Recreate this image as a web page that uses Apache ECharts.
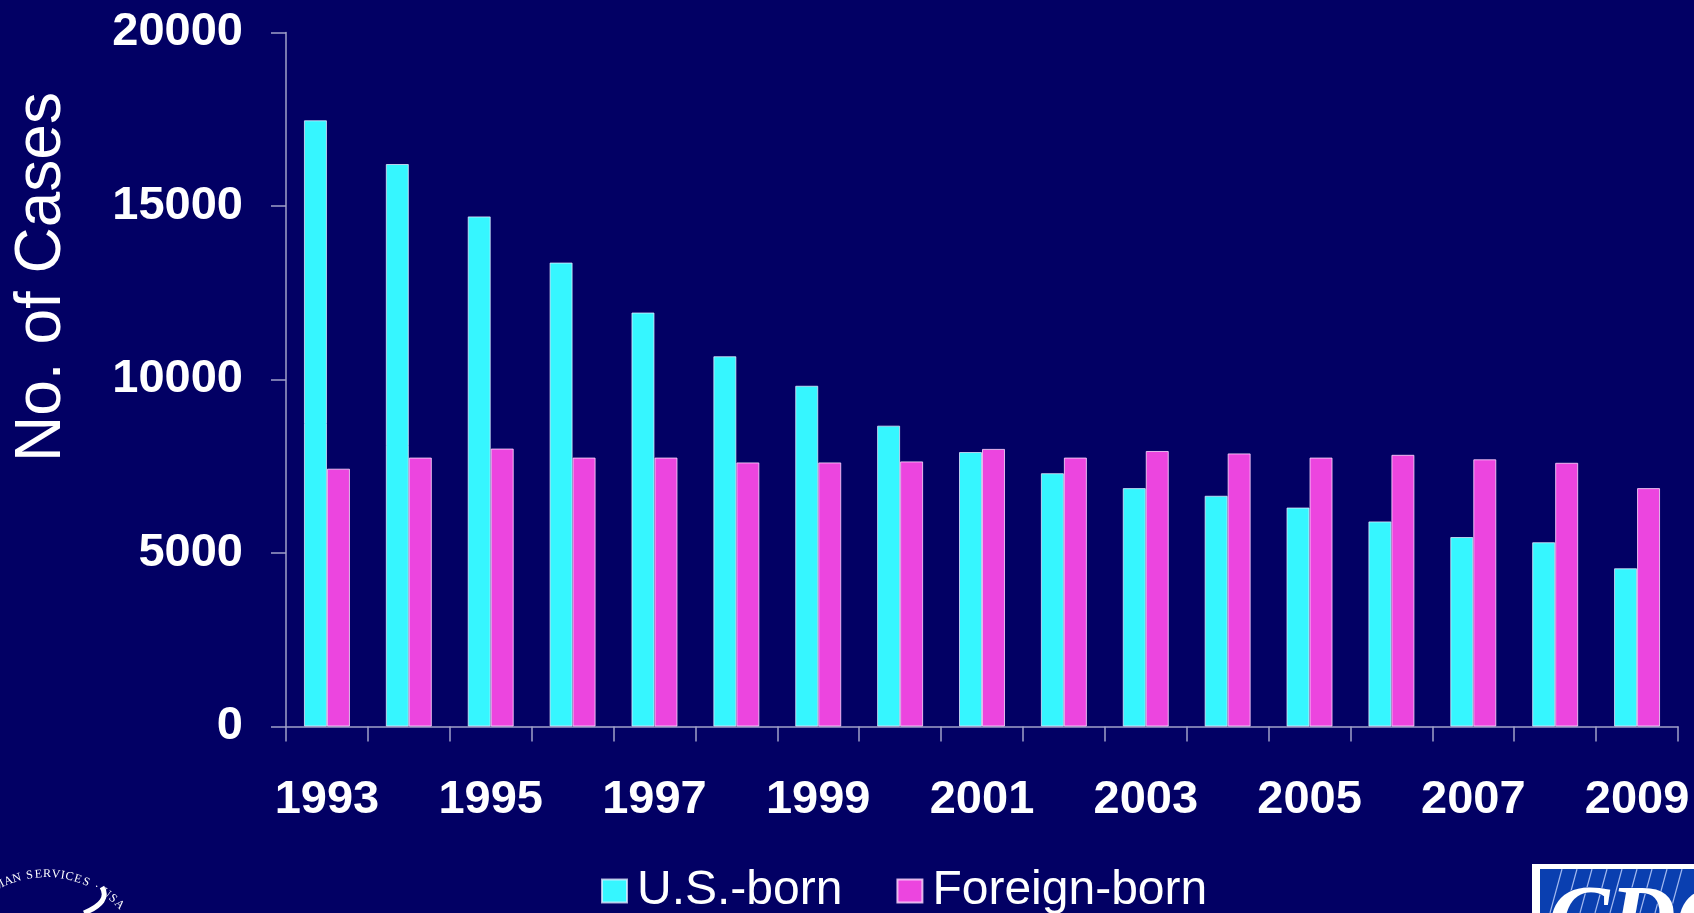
<!DOCTYPE html>
<html>
<head>
<meta charset="utf-8">
<script src="https://cdn.jsdelivr.net/npm/echarts@6/dist/echarts.min.js"></script>
<style>
html,body{margin:0;padding:0;background:#020064;}
#chart{width:1694px;height:913px;}
</style>
</head>
<body>
<div id="chart"></div>
<script>
const years = ['1993','1994','1995','1996','1997','1998','1999','2000','2001','2002','2003','2004','2005','2006','2007','2008','2009'];
const usBorn = [17470, 16210, 14700, 13370, 11930, 10670, 9820, 8670, 7910, 7300, 6870, 6650, 6310, 5910, 5460, 5310, 4560];
const foreignBorn = [7430, 7750, 8010, 7750, 7750, 7610, 7610, 7640, 8000, 7750, 7940, 7870, 7750, 7830, 7700, 7600, 6870];
const yTicks = [0, 5000, 10000, 15000, 20000];
const seriesNames = ['U.S.-born', 'Foreign-born'];

const chart = echarts.init(document.getElementById('chart'));

// HHS seal arc text (decoration)
const sealText = 'HUMAN SERVICES \u00B7 USA';
const sealChars = [];
{
  const cx = 46, cy = 977, r = 97;
  let theta = -0.7;
  for (const ch of sealText) {
    const w = ch === ' ' ? 4 : (ch === '\u00B7' ? 5 : (ch === 'M' ? 11 : (ch === 'I' ? 4.5 : 8.3)));
    const t = theta + (w / 2) / r;
    sealChars.push({
      type: 'text',
      x: cx + r * Math.sin(t),
      y: cy - r * Math.cos(t),
      rotation: -t,
      style: { text: ch, fill: '#ffffff', font: '12px "Liberation Serif", serif', align: 'center', verticalAlign: 'bottom' },
      silent: true
    });
    theta += w / r;
  }
}

const cdcStripes = [];
for (let i = 0; i < 9; i++) {
  const x0 = 1562 + i * 15;
  cdcStripes.push({
    type: 'line',
    shape: { x1: x0, y1: 869, x2: x0 - 12, y2: 913 },
    style: { stroke: 'rgba(200,215,255,0.8)', lineWidth: 1.2 },
    silent: true
  });
}

const option = {
  backgroundColor: '#020064',
  animation: false,
  grid: { left: 286, right: 16, top: 32.5, bottom: 186.5, containLabel: false },
  legend: {
    data: seriesNames,
    icon: 'rect',
    left: 601,
    top: 867,
    padding: 0,
    itemWidth: 25,
    itemHeight: 23,
    itemGap: 54,
    textStyle: { color: '#ffffff', fontSize: 48, fontFamily: '"Liberation Sans", Arial, sans-serif', padding: [0, 0, 0, 5] }
  },
  xAxis: {
    type: 'category',
    data: years,
    boundaryGap: true,
    axisLine: { show: true, lineStyle: { color: '#a0a0c8', width: 1.5 } },
    axisTick: { show: true, interval: 0, length: 15, lineStyle: { color: '#a0a0c8', width: 1.5 } },
    axisLabel: {
      interval: 1,
      color: '#ffffff',
      fontSize: 47,
      fontWeight: 'bold',
      fontFamily: '"Liberation Sans", Arial, sans-serif',
      margin: 50
    }
  },
  yAxis: {
    type: 'value',
    min: yTicks[0],
    max: yTicks[yTicks.length - 1],
    interval: yTicks[1] - yTicks[0],
    splitLine: { show: false },
    axisLine: { show: true, lineStyle: { color: '#a0a0c8', width: 1.5 } },
    axisTick: { show: true, length: 15, lineStyle: { color: '#a0a0c8', width: 1.5 } },
    axisLabel: {
      color: '#ffffff',
      fontSize: 47,
      fontWeight: 'bold',
      fontFamily: '"Liberation Sans", Arial, sans-serif',
      margin: 43,
      formatter: function (v) { return String(v); }
    }
  },
  series: [
    {
      name: seriesNames[0],
      type: 'bar',
      data: usBorn,
      barWidth: 23,
      barGap: '0%',
      itemStyle: { color: '#36F6FF', borderColor: 'rgba(235,235,255,0.75)', borderWidth: 1 }
    },
    {
      name: seriesNames[1],
      type: 'bar',
      data: foreignBorn,
      barWidth: 23,
      barGap: '0%',
      itemStyle: { color: '#EC45DF', borderColor: 'rgba(255,220,255,0.8)', borderWidth: 1 }
    }
  ],
  graphic: [
    {
      type: 'text',
      x: 42,
      y: 277,
      rotation: Math.PI / 2,
      style: {
        text: 'No. of Cases',
        fill: '#ffffff',
        font: '64px "Liberation Sans", Arial, sans-serif',
        align: 'center',
        verticalAlign: 'middle'
      },
      silent: true
    },
    ...sealChars,
    {
      type: 'bezierCurve',
      shape: { x1: 102, y1: 887, x2: 84, y2: 913, cpx1: 111, cpy1: 902 },
      style: { stroke: '#ffffff', lineWidth: 5, fill: null },
      silent: true
    },
    {
      type: 'rect',
      shape: { x: 1532, y: 864, width: 170, height: 60 },
      style: { fill: '#ffffff' },
      silent: true
    },
    {
      type: 'rect',
      shape: { x: 1540, y: 869, width: 160, height: 60 },
      style: { fill: '#0a3fb0' },
      silent: true
    },
    ...cdcStripes,
    {
      type: 'text',
      x: 1548,
      y: 878,
      style: {
        text: 'CDC',
        fill: '#ffffff',
        stroke: '#0a3fb0',
        lineWidth: 1,
        font: 'italic bold 92px "Liberation Serif", serif',
        align: 'left',
        verticalAlign: 'top'
      },
      silent: true
    }
  ]
};
chart.setOption(option);
</script>
</body>
</html>
